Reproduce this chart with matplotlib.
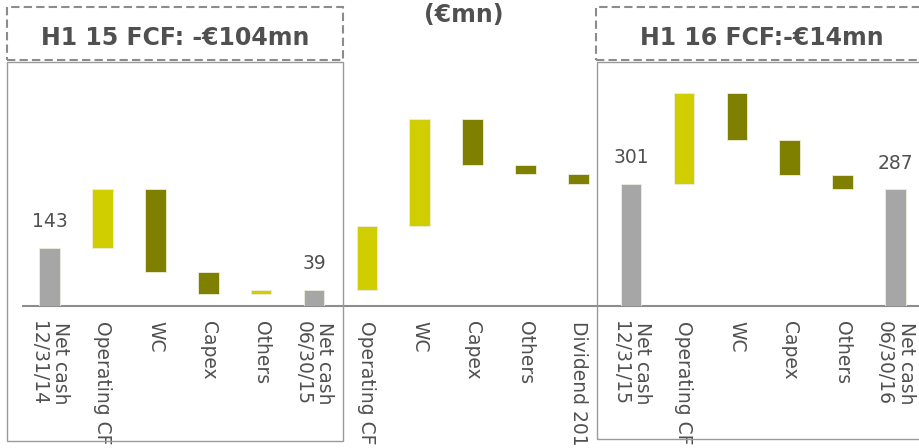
import matplotlib.pyplot as plt
from matplotlib.patches import Rectangle

# 1) data
categories = ['Net cash\n12/31/14', 'Operating CF', 'WC', 'Capex', 'Others', 'Net cash\n06/30/15',
              'Operating CF', 'WC', 'Capex', 'Others', 'Dividend 2015', 'Net cash\n12/31/15',
              'Operating CF', 'WC', 'Capex', 'Others', 'Net cash\n06/30/16']
values = [143, 144, -203, -55, 10, 39,
          157, 265, -114, -21, -25, 301,
          224, -117, -86, -35, 287]
totals = [0, 5, 11, 16]

grey = '#a6a6a6'
up_col = '#d0ce00'
down_col = '#808000'
txt_col = '#505050'

W, H = 919, 448

# waterfall bottoms / heights
bottoms, heights, colors = [], [], []
level = 0
for i, v in enumerate(values):
    if i in totals:
        bottoms.append(0)
        heights.append(v)
        colors.append(grey)
        level = v
    else:
        bottoms.append(level if v > 0 else level + v)
        heights.append(abs(v))
        colors.append(up_col if v > 0 else down_col)
        level += v

# 2) canvas
fig = plt.figure(figsize=(W / 100, H / 100), dpi=100)
ax = fig.add_axes([23.3 / W, (H - 306) / H, 898.5 / W, 243.6 / H])

x = range(len(categories))
ax.bar(x, heights, bottom=bottoms, width=0.39, color=colors,
       edgecolor='#eeeedd', linewidth=0.6, zorder=3)

for i in totals:
    ax.annotate(str(values[i]), (i, values[i]), xytext=(0, 12), textcoords='offset points',
                ha='center', va='bottom', fontsize=13.5, color=txt_col)

ax.set_xlim(-0.5, len(categories) - 0.5)
ax.set_ylim(0, 600)
ax.set_xticks(list(x))
ax.set_xticklabels(categories, rotation=-90, ha='center', va='top',
                   fontsize=13.5, color=txt_col)
ax.tick_params(axis='x', length=0, pad=11)
ax.set_yticks([])
for s in ['top', 'left', 'right']:
    ax.spines[s].set_visible(False)
ax.spines['bottom'].set_color('#8c8c8c')
ax.spines['bottom'].set_linewidth(1.5)
ax.patch.set_alpha(0)


def px_rect(x0, y0, x1, y1, **kw):
    fig.add_artist(Rectangle((x0 / W, 1 - y1 / H), (x1 - x0) / W, (y1 - y0) / H,
                             transform=fig.transFigure, fill=False, **kw))


# panel frames
px_rect(7, 62, 343, 441, edgecolor='#9a9a9a', linewidth=1)
px_rect(597, 62, 930, 439, edgecolor='#9a9a9a', linewidth=1)

# dashed header boxes
px_rect(7, 7, 343, 60, edgecolor='#8c8c8c', linewidth=1.5, linestyle=(0, (4, 2)))
px_rect(596, 7, 930, 60, edgecolor='#8c8c8c', linewidth=1.5, linestyle=(0, (4, 2)))

fig.text(175 / W, 1 - 45 / H, 'H1 15 FCF: -€104mn', ha='center', va='baseline',
         fontsize=17, fontweight='bold', color=txt_col)
fig.text(762 / W, 1 - 45 / H, 'H1 16 FCF:-€14mn', ha='center', va='baseline',
         fontsize=17, fontweight='bold', color=txt_col)
fig.text(464 / W, 1 - 22 / H, '(€mn)', ha='center', va='baseline',
         fontsize=17, fontweight='bold', color=txt_col)

# 3) save
fig.savefig('out.png', dpi=100)
